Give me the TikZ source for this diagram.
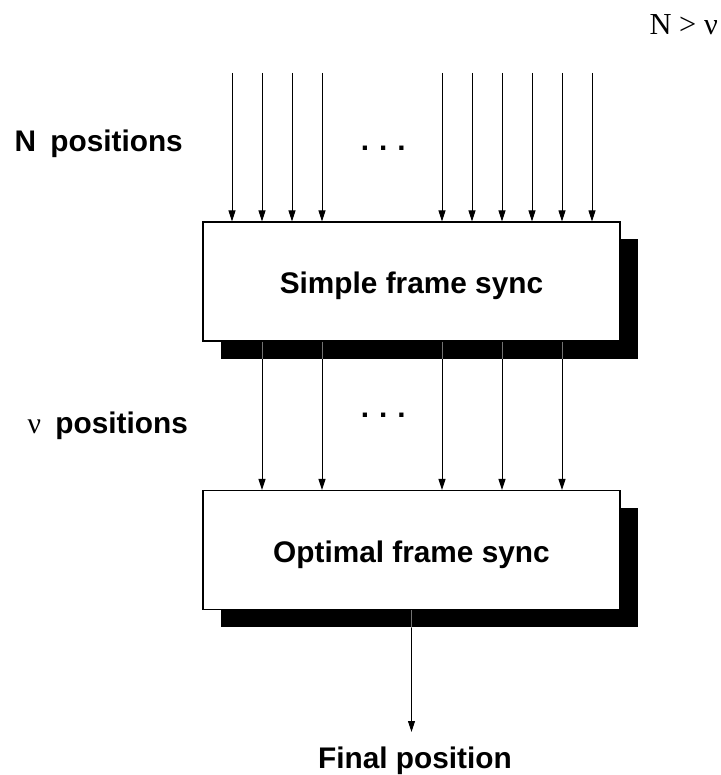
\documentclass[tikz,border=0pt]{standalone}
\usepackage{fontspec}
\setmainfont{Liberation Sans}
\newfontfamily\serifont{Liberation Serif}
\usetikzlibrary{arrows.meta,shadows}

\begin{document}
\begin{tikzpicture}[x=1pt,y=-1pt,
  lbl/.style={font=\fontsize{29.8}{34}\selectfont\bfseries, inner sep=0pt},
  syncbox/.style={draw=black, line width=1.2pt, fill=white,
    minimum width=417pt, minimum height=119pt, inner sep=0pt,
    text height=24pt, text depth=0pt,
    font=\fontsize{29.8}{34}\selectfont\bfseries,
    drop shadow={shadow xshift=17.5pt, shadow yshift=-17.5pt, opacity=1, fill=black}},
  conn/.style={line width=0.9pt, -{Triangle[width=7pt,length=11pt]}},
  thru/.style={line width=0.9pt, draw=white!45!black}]
\useasboundingbox (0,0) rectangle (720,775);

% the two processing stages
\node[syncbox] (box1) at (411.5,281.5) {Simple frame sync};
\node[syncbox] (box2) at (411.5,550) {Optimal frame sync};

% N input positions
\foreach \x [count=\i] in {232,262,292,322,442,472,502,532,562,592} {
  \coordinate (t\i) at (\x,73);
  \draw[conn] (t\i) -- (box1.north -| t\i);
}

% nu surviving positions
\foreach \x [count=\i] in {262,322,442,502,562} {
  \coordinate (m\i) at (\x,0);
  \draw[conn] (box1.south -| m\i) -- (box2.north -| m\i);
  \draw[thru] (box1.south -| m\i) -- ++(0,17.5);
}

% final output
\coordinate (fin) at (411.5,732);
\draw[conn] (box2.south) -- (fin);
\draw[thru] (box2.south) -- ++(0,17.5);

% labels
\node[lbl, anchor=base] (final) at (415,768) {Final position};
\node[lbl, anchor=base] (dots1) at (383.3,150.3) {.\hspace{10pt}.\hspace{10pt}.};
\node[lbl, anchor=base] (dots2) at (383.3,417) {.\hspace{10pt}.\hspace{10pt}.};
\node[lbl, anchor=base east] (npos) at (183,152) {N\hspace{6pt} positions};
\node[lbl, anchor=base east] (nupos) at (188,433) {{\serifont\mdseries ν}\hspace{6pt} positions};
\node[font=\serifont\fontsize{30.5}{36}\selectfont, anchor=base east, inner sep=0pt] (cond) at (718,35) {N > ν};
\end{tikzpicture}
\end{document}
